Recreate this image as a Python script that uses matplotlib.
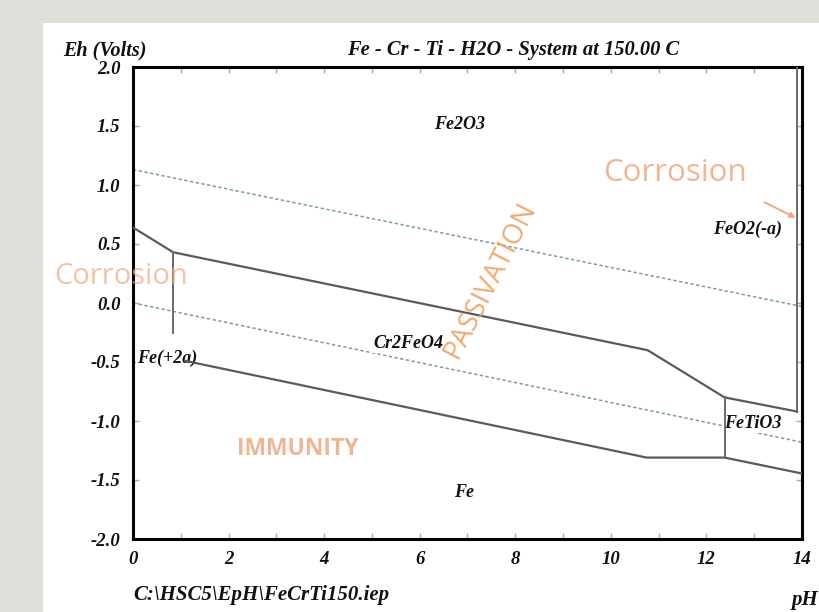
import matplotlib
matplotlib.use("Agg")
import matplotlib.pyplot as plt
from matplotlib.patches import Rectangle, FancyArrowPatch

# ---------------- data ----------------
upper_ph = [0.0, 0.84, 10.77, 12.38, 13.9]
upper_eh = [0.64, 0.43, -0.40, -0.80, -0.92]
lower_ph = [1.09, 10.75, 12.38, 14.0]
lower_eh = [-0.49, -1.31, -1.31, -1.445]
vert_ph = [0.84, 12.38, 13.9]
vert_top = [0.43, -0.80, 2.0]
vert_bot = [-0.25, -1.31, -0.92]
o2_ph = [0.0, 14.0]
o2_eh = [1.13, -0.03]
h2_ph = [0.0, 14.0]
h2_eh = [0.0, -1.18]

species = ["Fe2O3", "FeO2(-a)", "Fe(+2a)", "Cr2FeO4", "FeTiO3", "Fe"]
species_ph = [6.84, 12.87, 0.72, 5.77, 12.97, 6.93]
species_eh = [1.51, 0.62, -0.47, -0.34, -1.02, -1.61]

xticks = [0, 2, 4, 6, 8, 10, 12, 14]
yticks = [2.0, 1.5, 1.0, 0.5, 0.0, -0.5, -1.0, -1.5, -2.0]

W, H = 820, 612
fig = plt.figure(figsize=(W / 100, H / 100), dpi=100)
fig.patch.set_facecolor("#dde1d9")
fig.patches.append(Rectangle((43 / W, 0), 1, (H - 23) / H, transform=fig.transFigure,
                             facecolor="white", edgecolor="none", zorder=-10))

ax = fig.add_axes([133 / W, (H - 539) / H, (802 - 133) / W, (539 - 67) / H])
ax.set_zorder(1)
ax.set_facecolor("white")
ax.set_xlim(0, 14)
ax.set_ylim(-2, 2)

serif = dict(family="Liberation Serif", weight="bold", style="italic")

lc = "#5a5a5a"
ax.plot(upper_ph, upper_eh, color=lc, lw=1.6, zorder=3)
ax.plot(lower_ph, lower_eh, color=lc, lw=1.6, zorder=3)
for p, t, b in zip(vert_ph, vert_top, vert_bot):
    ax.plot([p, p], [t, b], color="#6a6a6a", lw=1.4, zorder=3)

dc = "#7a9e9e"
ax.plot(o2_ph, o2_eh, color=dc, lw=1.1, ls=(0, (2.2, 1.6)), zorder=1)
ax.plot(h2_ph, h2_eh, color=dc, lw=1.1, ls=(0, (2.2, 1.6)), zorder=1)

for s, p, e in zip(species, species_ph, species_eh):
    ax.text(p, e, s, ha="center", va="center", fontsize=13, color="#111111", zorder=2,
            bbox=dict(facecolor="white", edgecolor="none", pad=1.0), **serif)

# spines and ticks
for sp in ax.spines.values():
    sp.set_color("black")
    sp.set_linewidth(2.2)
ax.set_xticks(xticks)
ax.set_xticks(range(0, 15), minor=True)
ax.set_yticks(yticks)
ax.set_xticklabels([str(v) for v in xticks])
ax.set_yticklabels(["%.1f" % v for v in yticks])
ax.tick_params(axis="both", which="both", direction="in", length=4, width=1,
               color="#aaaaaa", top=True, right=True)
ax.tick_params(axis="x", pad=9)
ax.tick_params(axis="y", pad=9)
for lab in ax.get_xticklabels() + ax.get_yticklabels():
    lab.set_fontfamily("Liberation Serif")
    lab.set_fontweight("bold")
    lab.set_fontstyle("italic")
    lab.set_fontsize(13.5)
    lab.set_color("#111111")

# titles and axis texts
fig.text(63 / W, 1 - 50 / H, "Eh (Volts)", ha="left", va="center", fontsize=14.5, color="#111111", **serif)
fig.text(513 / W, 1 - 50 / H, "Fe - Cr - Ti - H2O - System at 150.00 C", ha="center", va="center",
         fontsize=14.8, color="#111111", **serif)
fig.text(133 / W, 1 - 595 / H, "C:\\HSC5\\EpH\\FeCrTi150.iep", ha="left", va="center",
         fontsize=15, color="#111111", **serif)
fig.text(818 / W, 1 - 600 / H, "pH", ha="right", va="center", fontsize=15, color="#111111", **serif)

# orange annotations
oc = "#eeaa80"
fig.text(675 / W, 1 - 173 / H, "Corrosion", ha="center", va="center", fontsize=22.5,
         color=oc, family="Open Sans", alpha=0.85, zorder=5)
fig.text(121 / W, 1 - 277 / H, "Corrosion", ha="center", va="center", fontsize=21,
         color=oc, family="Open Sans", alpha=0.7, zorder=5)
fig.text(490 / W, 1 - 280 / H, "PASSIVATION", ha="center", va="center", fontsize=20,
         color="#f0a060", family="Open Sans", rotation=63, alpha=0.9, zorder=5)
fig.text(298 / W, 1 - 449 / H, "IMMUNITY", ha="center", va="center", fontsize=16.5,
         color=oc, family="Open Sans", weight="bold", alpha=0.85, zorder=5)
arr = FancyArrowPatch((762 / W, 1 - 201 / H), (798 / W, 1 - 219 / H), transform=fig.transFigure,
                      arrowstyle="-|>", mutation_scale=8, color="#eea47c", lw=1.3, zorder=5)
fig.patches.append(arr)

fig.savefig("out.png", dpi=100, facecolor=fig.get_facecolor())
